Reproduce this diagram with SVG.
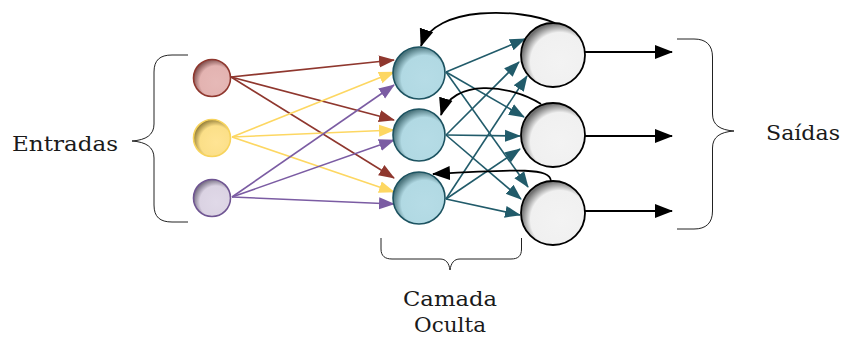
<svg xmlns="http://www.w3.org/2000/svg" width="841" height="338" viewBox="0 0 841 338">
<style>
  .lbl{font-family:"DejaVu Serif","Liberation Serif",serif;font-size:21px;fill:#1a1a1a}
  .brace{fill:none;stroke:#222;stroke-width:1}
  .c{stroke-width:1.6}
  .red{stroke:#8f372e;stroke-width:1.6;fill:none}
  .yel{stroke:#fdd762;stroke-width:1.6;fill:none}
  .pur{stroke:#7b5ca3;stroke-width:1.6;fill:none}
  .teal{stroke:#215b6a;stroke-width:1.6;fill:none}
  .blk{stroke:#000;stroke-width:1.8;fill:none}
</style>
<defs>
  <radialGradient id="gIn1" cx="0.6" cy="0.6" r="0.6" fx="0.62" fy="0.62">
    <stop offset="0" stop-color="#e6b9b7"/><stop offset="0.72" stop-color="#e3b3b1"/><stop offset="1" stop-color="#8a5a58"/>
  </radialGradient>
  <radialGradient id="gIn2" cx="0.6" cy="0.6" r="0.6" fx="0.62" fy="0.62">
    <stop offset="0" stop-color="#ffe494"/><stop offset="0.72" stop-color="#fbdf88"/><stop offset="1" stop-color="#9c8640"/>
  </radialGradient>
  <radialGradient id="gIn3" cx="0.6" cy="0.6" r="0.6" fx="0.62" fy="0.62">
    <stop offset="0" stop-color="#e0d9e8"/><stop offset="0.72" stop-color="#dbd3e3"/><stop offset="1" stop-color="#7e768a"/>
  </radialGradient>
  <radialGradient id="gHid" cx="0.6" cy="0.6" r="0.6" fx="0.62" fy="0.62">
    <stop offset="0" stop-color="#b6dce6"/><stop offset="0.74" stop-color="#b1d9e3"/><stop offset="1" stop-color="#4f7880"/>
  </radialGradient>
  <radialGradient id="gOut" cx="0.6" cy="0.6" r="0.6" fx="0.62" fy="0.62">
    <stop offset="0" stop-color="#f3f3f3"/><stop offset="0.76" stop-color="#f0f0f0"/><stop offset="1" stop-color="#707070"/>
  </radialGradient>
  <marker id="aRed" viewBox="0 -7 16 14" refX="15" refY="0" markerWidth="16" markerHeight="14" markerUnits="userSpaceOnUse" orient="auto"><path d="M0,-6 L16,0 L0,6 Z" fill="#8f372e"/></marker>
  <marker id="aYel" viewBox="0 -7 16 14" refX="15" refY="0" markerWidth="16" markerHeight="14" markerUnits="userSpaceOnUse" orient="auto"><path d="M0,-6 L16,0 L0,6 Z" fill="#fdd762"/></marker>
  <marker id="aPur" viewBox="0 -7 16 14" refX="15" refY="0" markerWidth="16" markerHeight="14" markerUnits="userSpaceOnUse" orient="auto"><path d="M0,-6 L16,0 L0,6 Z" fill="#7b5ca3"/></marker>
  <marker id="aTeal" viewBox="0 -7 16 14" refX="15" refY="0" markerWidth="16" markerHeight="14" markerUnits="userSpaceOnUse" orient="auto"><path d="M0,-6 L16,0 L0,6 Z" fill="#215b6a"/></marker>
  <marker id="aBlk" viewBox="0 -8 18 16" refX="17" refY="0" markerWidth="18" markerHeight="16" markerUnits="userSpaceOnUse" orient="auto"><path d="M0,-7 L18,0 L0,7 Z" fill="#000"/></marker>
</defs>

<g id="connectors">
  <line class="red" x1="231" y1="77" x2="394" y2="60" marker-end="url(#aRed)"/>
  <line class="red" x1="231" y1="77" x2="394" y2="120" marker-end="url(#aRed)"/>
  <line class="red" x1="231" y1="77" x2="394" y2="178" marker-end="url(#aRed)"/>
  <line class="yel" x1="232" y1="137" x2="394" y2="72" marker-end="url(#aYel)"/>
  <line class="yel" x1="232" y1="137" x2="394" y2="130" marker-end="url(#aYel)"/>
  <line class="yel" x1="232" y1="137" x2="394" y2="192" marker-end="url(#aYel)"/>
  <line class="pur" x1="232" y1="197" x2="394" y2="85" marker-end="url(#aPur)"/>
  <line class="pur" x1="232" y1="197" x2="394" y2="140" marker-end="url(#aPur)"/>
  <line class="pur" x1="232" y1="197" x2="394" y2="204" marker-end="url(#aPur)"/>
  <line class="teal" x1="446" y1="72" x2="525" y2="39" marker-end="url(#aTeal)"/>
  <line class="teal" x1="446" y1="72" x2="524" y2="117" marker-end="url(#aTeal)"/>
  <line class="teal" x1="446" y1="72" x2="528" y2="187" marker-end="url(#aTeal)"/>
  <line class="teal" x1="446" y1="135" x2="519" y2="62" marker-end="url(#aTeal)"/>
  <line class="teal" x1="446" y1="135" x2="520" y2="136" marker-end="url(#aTeal)"/>
  <line class="teal" x1="446" y1="135" x2="521" y2="199" marker-end="url(#aTeal)"/>
  <line class="teal" x1="446" y1="199" x2="527" y2="76" marker-end="url(#aTeal)"/>
  <line class="teal" x1="446" y1="199" x2="520" y2="149" marker-end="url(#aTeal)"/>
  <line class="teal" x1="446" y1="199" x2="520" y2="215" marker-end="url(#aTeal)"/>
  <path class="blk" d="M555,23 C520,8 435,5 421,46" marker-end="url(#aBlk)"/>
  <path class="blk" d="M541,104 C510,84 452,78 441,115" marker-end="url(#aBlk)"/>
  <path class="blk" d="M551,181 C550,168 522,169 433,174" marker-end="url(#aBlk)"/>
  <line class="blk" x1="585" y1="52" x2="672" y2="52" marker-end="url(#aBlk)"/>
  <line class="blk" x1="585" y1="136" x2="672" y2="136" marker-end="url(#aBlk)"/>
  <line class="blk" x1="585" y1="211" x2="672" y2="211" marker-end="url(#aBlk)"/>
</g>

<g id="in1"><circle class="c" cx="212" cy="78" r="18.5" fill="url(#gIn1)" stroke="#8f372e"/></g>
<g id="in2"><circle class="c" cx="212" cy="138" r="18.5" fill="url(#gIn2)" stroke="#f7d35c"/></g>
<g id="in3"><circle class="c" cx="212" cy="198" r="18.5" fill="url(#gIn3)" stroke="#6f5592"/></g>

<g id="h1"><circle class="c" cx="419" cy="73" r="26" fill="url(#gHid)" stroke="#1d5361"/></g>
<g id="h2"><circle class="c" cx="419" cy="135" r="26" fill="url(#gHid)" stroke="#1d5361"/></g>
<g id="h3"><circle class="c" cx="419" cy="198" r="26" fill="url(#gHid)" stroke="#1d5361"/></g>

<g id="o1"><circle cx="553" cy="55" r="32" fill="url(#gOut)" stroke="#000" stroke-width="1.8"/></g>
<g id="o2"><circle cx="553" cy="135" r="32" fill="url(#gOut)" stroke="#000" stroke-width="1.8"/></g>
<g id="o3"><circle cx="553" cy="213" r="32" fill="url(#gOut)" stroke="#000" stroke-width="1.8"/></g>

<g id="entradas">
  <path class="brace" d="M188,55 L172,55 C160,55 154,60 154,72 L154,124 C154,135 146,140 132,141 C146,142 154,147 154,158 L154,205 C154,217 160,222 172,222 L188,222"/>
  <text class="lbl" x="12" y="151" textLength="106" lengthAdjust="spacingAndGlyphs">Entradas</text>
</g>
<g id="saidas">
  <path class="brace" d="M677,39 L694,39 C706,39 712.5,45 712.5,57 L712.5,114 C712.5,125 720,130 734,131 C720,132 712.5,137 712.5,148 L712.5,211 C712.5,223 706,229 694,229 L677,229"/>
  <text class="lbl" x="766" y="140" textLength="74" lengthAdjust="spacingAndGlyphs">Saídas</text>
</g>
<g id="oculta">
  <path class="brace" d="M381,238 L381,249 C381,256 385,259 392,259 L440,259 C446,259 449,263 450,270 C451,263 454,259 460,259 L511,259 C518,259 521.5,256 521.5,249 L521.5,238"/>
  <text class="lbl" x="403" y="306" textLength="94" lengthAdjust="spacingAndGlyphs">Camada</text>
  <text class="lbl" x="414" y="332" textLength="72" lengthAdjust="spacingAndGlyphs">Oculta</text>
</g>
</svg>
